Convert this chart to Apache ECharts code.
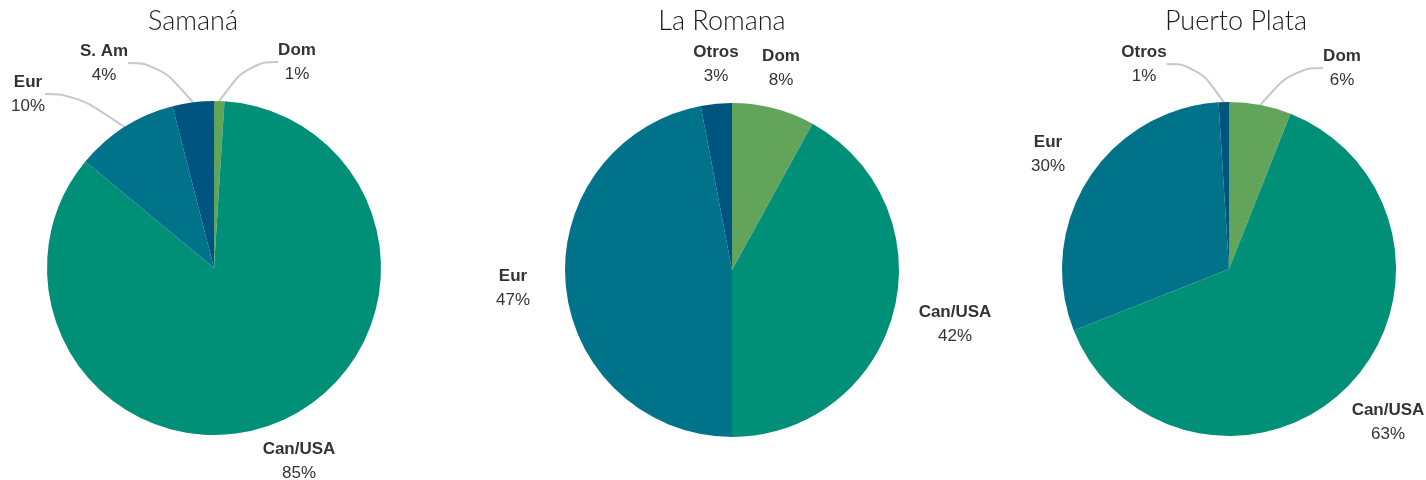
<!DOCTYPE html>
<html>
<head>
<meta charset="utf-8">
<script src="https://cdn.jsdelivr.net/npm/echarts@6/dist/echarts.min.js"></script>
<style>
html,body{margin:0;padding:0;background:#fff;}
#chart{width:1426px;height:480px;}
</style>
</head>
<body>
<div id="chart"></div>
<script>
// ---- data ----
const titles = ['Samaná', 'La Romana', 'Puerto Plata'];
const samanaNames = ['Dom', 'Can/USA', 'Eur', 'S. Am'];
const samanaValues = [1, 85, 10, 4];
const romanaNames = ['Dom', 'Can/USA', 'Eur', 'Otros'];
const romanaValues = [8, 42, 47, 3];
const plataNames = ['Dom', 'Can/USA', 'Eur', 'Otros'];
const plataValues = [6, 63, 30, 1];

// ---- styles / layout ----
const colors = ['#62a55a', '#009078', '#00728a', '#005480'];
const centers = [[214, 268], [732, 270], [1229, 269]];
const radius = 167;
const titleX = [188, 717, 1231];
const labelFont = '"Liberation Sans", Arial, Helvetica, sans-serif';
const labelPos = [
  [[297, 62], [299, 461], [28, 94], [104, 63]],
  [[781, 68], [955, 324], [513, 288], [716, 64]],
  [[1342, 68], [1388, 422], [1048, 154], [1144, 64]]
];
const showLines = [
  [true, false, true, true],
  [false, false, false, false],
  [true, false, false, true]
];

const groups = [
  [samanaNames, samanaValues],
  [romanaNames, romanaValues],
  [plataNames, plataValues]
];

const chart = echarts.init(document.getElementById('chart'));
chart.setOption({
  animation: false,
  color: colors,
  textStyle: {fontFamily: labelFont},
  title: titles.map((t, i) => ({
    text: t,
    left: titleX[i],
    top: 3,
    textAlign: 'center',
    textStyle: {fontFamily: 'Lato', fontWeight: 300, fontSize: 27, color: '#1a1a1a'}
  })),
  series: groups.map((g, si) => ({
    type: 'pie',
    center: centers[si],
    radius: radius,
    startAngle: 90,
    clockwise: true,
    avoidLabelOverlap: false,
    emphasis: {disabled: true},
    data: g[0].map((n, i) => ({
      name: n,
      value: g[1][i],
      itemStyle: {color: colors[i]},
      labelLine: {show: showLines[si][i]}
    })),
    label: {
      show: true,
      position: 'outside',
      fontFamily: labelFont,
      fontSize: 17,
      color: '#333',
      formatter: '{n|{b}}\n{p|{c}%}',
      rich: {
        n: {fontFamily: labelFont, fontWeight: 'bold', fontSize: 17, color: '#333', lineHeight: 24, align: 'center'},
        p: {fontFamily: labelFont, fontSize: 17, color: '#333', lineHeight: 24, align: 'center'}
      }
    },
    labelLine: {
      smooth: 0.5,
      lineStyle: {color: '#c8c8c8', width: 2}
    },
    labelLayout: function (params) {
      const p = labelPos[si][params.dataIndex];
      return {x: p[0], y: p[1], align: 'center', verticalAlign: 'middle'};
    }
  }))
});
</script>
</body>
</html>
